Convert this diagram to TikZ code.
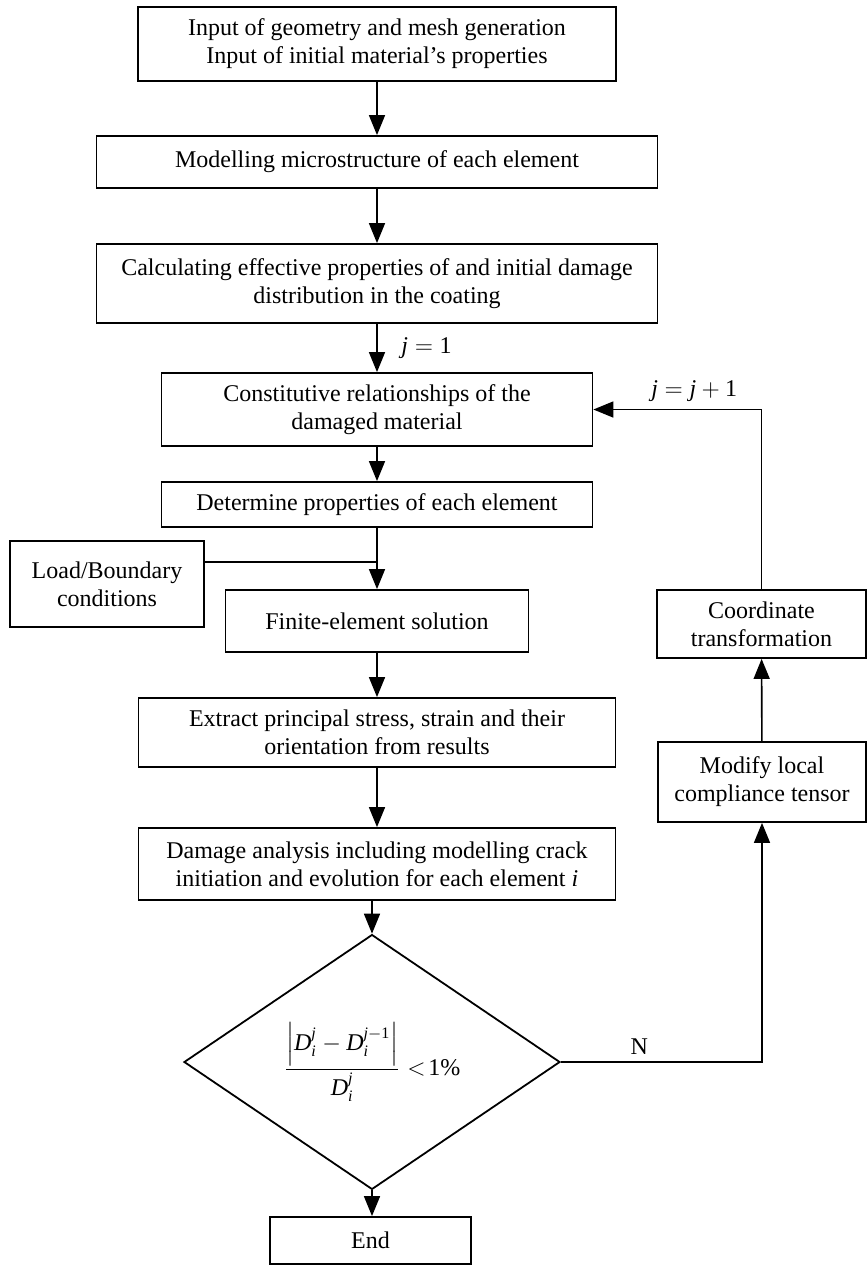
\documentclass[tikz,border=0pt]{standalone}
\usepackage{amsmath}
\usepackage{fontspec}
\setmainfont{Liberation Serif}
\usetikzlibrary{shapes.geometric}
\usetikzlibrary{arrows.meta}

\begin{document}
\begin{tikzpicture}[x=0.5pt, y=-0.5pt,
    every node/.style={font=\fontsize{12}{14}\selectfont, align=center},
    box/.style={draw, line width=0.9pt, inner sep=0pt},
    line/.style={line width=0.8pt},
    arr/.style={line width=0.8pt, -{Triangle[length=10pt, width=8pt]}}]
        \useasboundingbox (0,0) rectangle (868,1266);

        % main column
        \node[box, minimum width=239pt, minimum height=37pt] (inp) at (377,44) {Input of geometry and mesh generation\\Input of initial material's properties};
        \node[box, minimum width=280.5pt, minimum height=26pt] (micro) at (377,162) {Modelling microstructure of each element};
        \node[box, minimum width=280.5pt, minimum height=39.5pt] (calc) at (377,283.5) {Calculating effective properties of and initial damage\\distribution in the coating};
        \node[box, minimum width=215.5pt, minimum height=36.5pt] (const) at (377,409.5) {Constitutive relationships of the\\damaged material};
        \node[box, minimum width=215.5pt, minimum height=22.5pt] (prop) at (377,504.5) {Determine properties of each element};
        \node[box, minimum width=97pt, minimum height=43pt] (load) at (107,584) {Load/Boundary\\conditions};
        \node[box, minimum width=151.5pt, minimum height=31pt] (fe) at (377,621) {Finite-element solution};
        \node[box, minimum width=238.5pt, minimum height=34.5pt] (extr) at (377,732.5) {Extract principal stress, strain and their\\orientation from results};
        \node[box, minimum width=238.5pt, minimum height=36pt] (dmg) at (377,864) {Damage analysis including modelling crack\\initiation and evolution for each element \textit{i}};
        \node[draw, diamond, line width=0.9pt, inner sep=0pt, minimum width=188pt, minimum height=105pt] (dec) at (372,1062) {$\dfrac{\left|\mathit{D}_{\mathit{i}}^{\mathit{j}}-\mathit{D}_{\mathit{i}}^{\mathit{j}-\mathrm{1}}\right|}{\mathit{D}_{\mathit{i}}^{\mathit{j}}}\mathrel{<}\!\mathrm{1\%}$};
        \node[box, minimum width=100.5pt, minimum height=23.5pt] (fin) at (370.5,1240.5) {End};

        % right column
        \node[box, minimum width=104.5pt, minimum height=34pt] (coord) at (761.5,624) {Coordinate\\transformation};
        \node[box, minimum width=104pt, minimum height=40pt] (modif) at (762,782) {Modify local\\compliance tensor};

        \coordinate (join) at (377,562);

        \draw[arr] (inp) -- (micro);
        \draw[arr] (micro) -- (calc);
        \draw[arr] (calc) -- node[anchor=west, xshift=8.5pt] {$\mathit{j}=\mathrm{1}$} (const);
        \draw[arr] (const) -- (prop);
        \draw[line] (load.east |- join) -- (join);
        \draw[arr] (prop) -- (fe);
        \draw[arr] (fe) -- (extr);
        \draw[arr] (extr) -- (dmg);
        \draw[arr] (dec.north |- dmg.south) -- (dec.north);
        \draw[arr] (dec.south) -- (dec.south |- fin.north);
        \draw[arr] (dec.east) -| node[above, pos=0.195] {N} (modif.south);
        \draw[arr] (modif) -- (coord);
        \draw[arr] (coord.north) |- node[above, pos=0.70] {$\mathit{j}=\mathit{j}+\mathrm{1}$} (const.east);
\end{tikzpicture}
\end{document}
